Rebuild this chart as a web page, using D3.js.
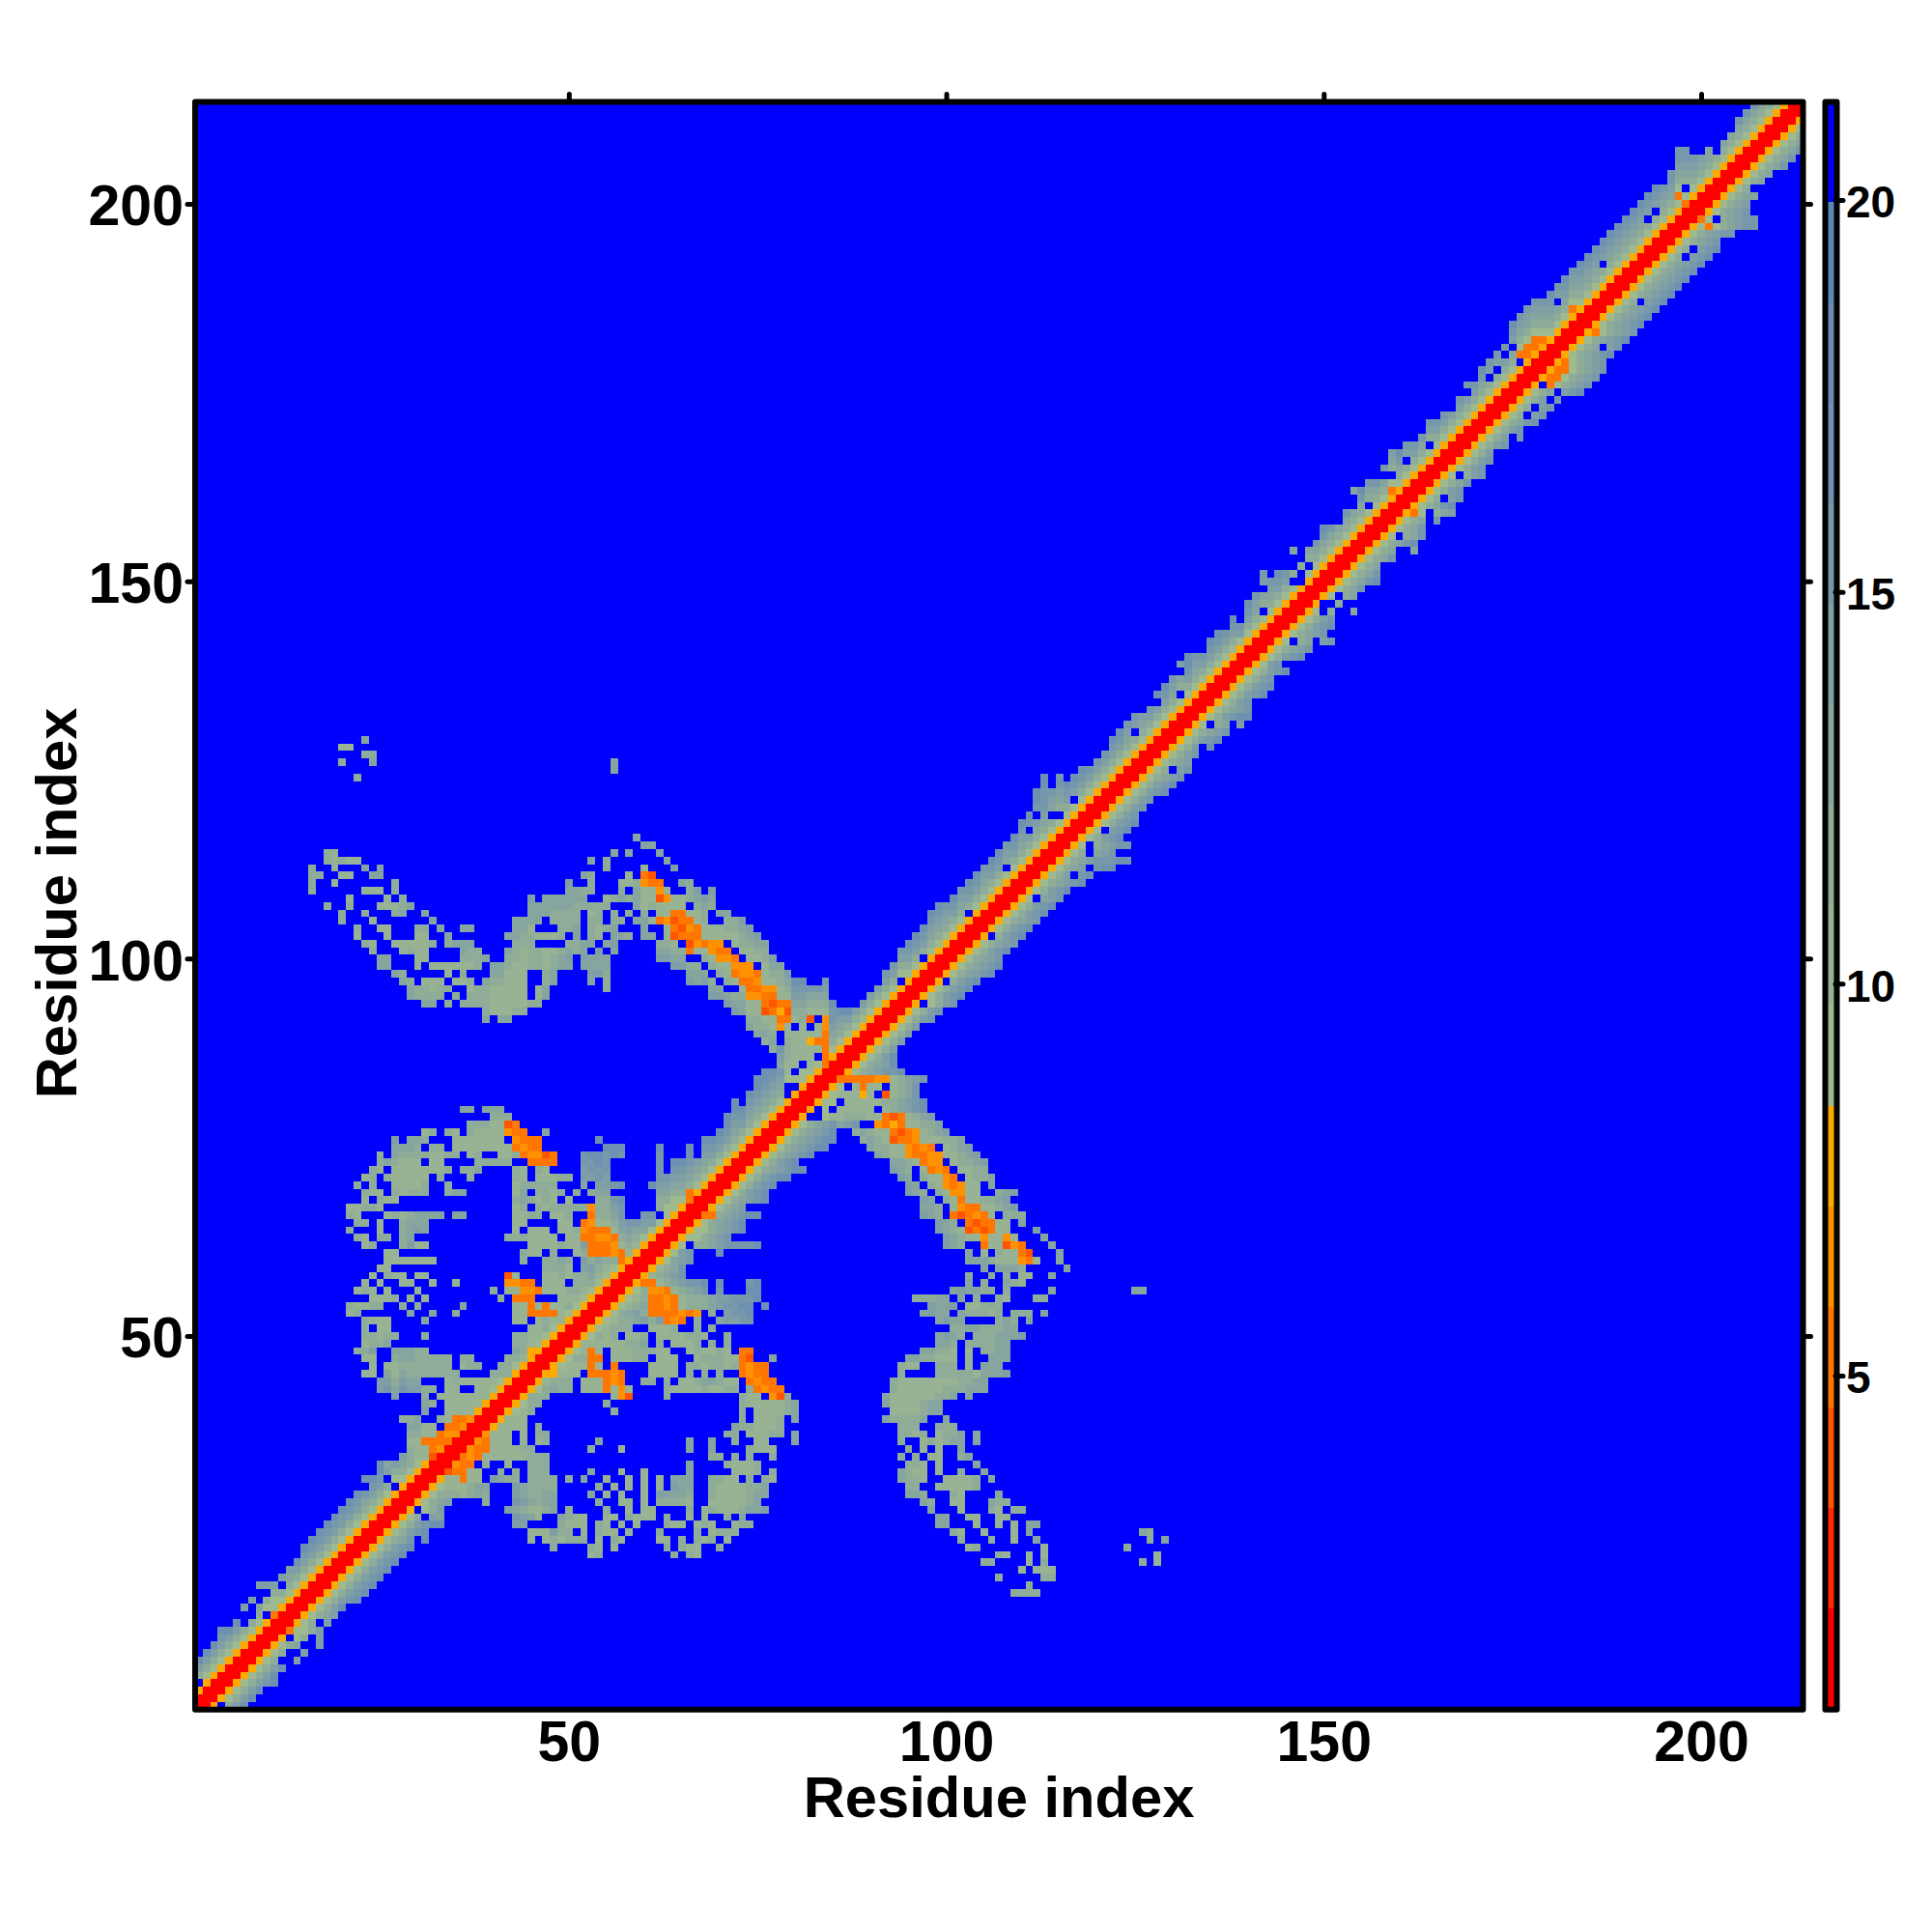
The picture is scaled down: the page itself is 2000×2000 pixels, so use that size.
<!DOCTYPE html>
<html><head><meta charset="utf-8">
<script src="https://cdn.jsdelivr.net/npm/d3@7"></script>
<style>html,body{margin:0;background:#fff}svg{display:block}text{font-family:"Liberation Sans",Arial,sans-serif;font-weight:bold;fill:#000}</style>
</head><body><svg id="c" width="2000" height="2000"></svg>
<script>
// Level code per cell: 0-5 warm, 6-e green to steel, '.' = beyond cut-off (blue)
const levelColors = ["#ff0000","#ff2a00","#ff5500","#ff7700","#ff9000","#ffaa00","#9fba8e","#97b393","#8fac99","#87a59f","#7f9ea5","#7798ab","#6f91b1","#678bb3","#5f85b4","#0000ff"];
const levelLow = [0.75,2.03,3.31,4.59,5.88,7.16,8.44,9.72,11,12.28,13.56,14.84,16.13,17.41,18.69,19.97];
const residueTicks = [50,100,150,200];
const distanceTicks = [5,10,15,20];
const axisTitle = "Residue index";

// Index 0 = residue 1. Each string starts on the diagonal and runs to higher residues.
const bandRows = [
"005.8ac","00568ac","00568ac","00568abc","00568ac","00568ac","00568..a","00568..a","005689..a","005.68.a",
"003668a","00568.a","005689a","00568ac","00568abc","00568abc","00568abc","00568abc","00568abc","00568abc",
"00568abc","00568abc","005689b.c","00568abc","00568abcc","00568.ab","005.689","005689","00568","00568",
"00568","00568","00568","00568","00568","00568","005689","005689","0056","0056",
"0056","0056","0056","0056","0056","0056","0056","0056","0056","0056",
"0056","0056","0056","0056","0056","0056","0056","0056","0056","0056",
"0056","0056","0056","0056","0056","0056","0056","0056","0056","00568abc",
"00568abcc","005689abcc","00568abc","005689abc","005689abcc","005689abcc","005689abc","005689ab","005..677888773237 89a","005.6.77777.789abc",
"00566.77777889abc","005677757.2789b","0056.7377.789b","003333344789ab","005689abbc","005689ac","00568ac","00568a","00568a","00568a",
"00568a","00568ab","00568ab","005.68ab","00568abc","00568abc","005.8abc","005689abc","005689abc","005689ab",
"00568abc","005689ab","005.8abc","00568abc","005689ab","00568abc","00568abc","0056.9ab","00568abc","005689abc",
"00568a.bc","005689a.bcc","005689abbbcc","00568.9ab","0056.89abb","00568abc","0056.abc","00568abc","00568ab","00568ab",
"00568ab","00568abc","00568abc","005689ab","00568.ab","005689a","00568ab","00568a.c","00568abc","005689ab",
"0056.89.a","00568abcc","005689ab","00568ab","00568abc","00568abc","00568ab","00568abc","0056ab","00568abc",
"005689ab","0056.89.ab","005689ab","00568abc","00568ab","0056.8..9","005..8","0056.89","005689b","005689bc",
"005689b","005689","005689b","005689..9","005689bc","0056.89b","005689b","005689.b","00536.89a","005689bc",
"00568.ab","00568ab","005689b","0056.8ab","00568ab","00568ab","00568a","00568ab","00568a.b","00568ab",
"005689bc","00568.ab","00568.ab","00568a.b","005689.abc","005.3689ab","00533689ab","00533689ab","00536 89ab","005689abc",
"005689.ab","005689abc","00536 89ab","005689abc","005689abc","005689abc","00568.abc","005689abc","005689abc","005689abc",
"005689abc","005689abc","00568.abc","00568.abc","005689ab","005689abb","00563689abb","0036.89abb","005689ab","005689a",
"0056899","00568","005689","005689","005689b","005689b","005689b","005689","00568","0056",
"005","00","0"
].map(s=>s.replace(/ /g,""));
// [residue row, first residue column, levels]
const farRuns = [
[16,109,"8888"],[17,111,"8"],[18,107,"8"],[18,113,"88"],[19,110,"7"],[19,112,"777"],
[20,105,"88"],[20,111,"7"],[20,113,"8"],[20,126,"8"],[20,128,"7"],
[21,53,"78"],[21,64,"8"],[21,66,"87"],[21,107,"87"],[21,111,"7"],[21,113,"7"],[21,128,"7"],
[22,48,"8"],[22,53,"87"],[22,56,"7"],[22,63,"8"],[22,65,"877"],[22,70,"8"],[22,103,"78"],[22,113,"7"],[22,124,"8"],
[23,45,"7"],[23,47,"787888"],[23,54,"7"],[23,56,"87"],[23,62,"77"],[23,65,"8"],[23,67,"878"],[23,71,"7"],[23,102,"8"],[23,106,"8"],[23,109,"7"],[23,112,"9"],[23,127,"8"],[23,129,"9"],
[24,45,"777a88"],[24,52,"7"],[24,54,"877"],[24,58,"7"],[24,62,"8"],[24,67,"8"],[24,69,"7888"],[24,101,"87"],[24,105,"7"],[24,109,"7"],[24,111,"9"],[24,126,"98"],
[25,43,"aa"],[25,49,"8777"],[25,54,"87"],[25,57,"7"],[25,59,"7"],[25,63,"877"],[25,67,"787"],[25,72,"788"],[25,99,"99"],[25,104,"7"],[25,107,"7"],[25,109,"7"],[25,111,"99"],
[26,33,"9"],[26,43,"ba97"],[26,49,"9877"],[26,55,"77"],[26,58,"8777"],[26,63,"8"],[26,66,"7"],[26,68,"7"],[26,71,"8"],[26,73,"9"],[26,99,"99"],[26,103,"77"],[26,107,"77"],
[27,33,"a"],[27,42,"a987789"],[27,50,"8"],[27,55,"8"],[27,58,"7"],[27,60,"77"],[27,66,"8"],[27,68,"7"],[27,69,"8777899a"],[27,98,"9"],[27,102,"7"],[27,106,"87"],[27,109,"88"],
[28,34,"a"],[28,39,"8"],[28,43,"ba9899"],[28,54,"8"],[28,57,"77"],[28,60,"7"],[28,62,"88887"],[28,69,"7777789"],[28,97,"98"],[28,101,"77"],[28,106,"9"],[28,107,"88"],
[29,34,"887898"],[29,43,"a98899"],[29,53,"9"],[29,55,"7"],[29,57,"7"],[29,60,"7"],[29,62,"a9998"],[29,69,"87777899"],[29,95,"998"],[29,101,"87"],[29,107,"9"],
[30,34,"777899"],[30,43,"a98888"],[30,54,"8"],[30,56,"7"],[30,58,"7"],[30,60,"7"],[30,62,"7"],[30,64,"a99"],[30,69,"87777889"],[30,95,"88"],[30,99,"777778"],
[31,34,"77"],[31,36,"3"],[31,37,"77"],[31,40,"a988"],[31,45,"8888"],[31,50,"8"],[31,52,"9"],[31,55,"7"],[31,58,"7"],[31,60,"7"],[31,62,"7"],[31,64,"999"],[31,69,"8877"],[31,74,"8"],[31,76,"87"],[31,94,"9887"],[31,100,"77778"],[31,106,"9"],
[32,34,"233"],[32,37,"77"],[32,41,"8"],[32,43,"8"],[32,45,"888"],[32,53,"9"],[32,57,"7"],[32,60,"7"],[32,66,"9"],[32,72,"7778"],[32,77,"8"],[32,94,"9877"],[32,99,"7"],[32,102,"8"],[32,105,"9"],
[33,35,"433"],[33,39,"8"],[33,42,"7"],[33,45,"888"],[33,66,"9"],[33,71,"87778"],[33,95,"887"],[33,99,"7"],[33,104,"9"],
[34,36,"343"],[34,39,"7777"],[34,43,"77888"],[34,69,"88"],[34,72,"8"],[34,74,"8"],[34,77,"8"],[34,94,"8"],[34,96,"8"],[34,98,"77"],[34,102,"89"],
[35,37,"433"],[35,40,"777788"],[35,53,"8"],[35,57,"7"],[35,66,"9"],[35,69,"9"],[35,74,"8777"],[35,95,"8"],[35,97,"7"],[35,99,"7"],[35,102,"9"],
[36,38,"43"],[36,40,"777"],[36,44,"7"],[36,46,"78"],[36,54,"9"],[36,66,"9"],[36,69,"9"],[36,72,"8"],[36,75,"77"],[36,80,"9"],[36,94,"8"],[36,97,"787899"],[36,104,"9"],
[37,39,"4"],[37,40,"777"],[37,44,"7"],[37,46,"88"],[37,71,"88"],[37,74,"77788"],[37,80,"9"],[37,94,"8878"],[37,99,"7889"],[37,104,"9"],
[38,41,"7777"],[38,46,"8"],[38,72,"9887778"],[38,94,"888"],[38,99,"888"],
[39,42,"777"],[39,73,"8"],[39,75,"7778"],[39,80,"9"],[39,92,"988889"],[39,100,"9"],
[40,44,"78"],[40,56,"8"],[40,73,"8"],[40,75,"777789"],[40,93,"7777899"],
[41,45,"88"],[41,55,"8"],[41,73,"87777789"],[41,92,"97777899"],
[42,45,"888"],[42,56,"7"],[42,57,"42"],[42,63,"8"],[42,73,"877"],[42,77,"42"],[42,79,"8"],[42,92,"9777777889"],[42,103,"9"],
[43,47,"89"],[43,49,"88"],[43,52,"7"],[43,53,"77"],[43,55,"3"],[43,56,"7"],[43,57,"4"],[43,58,"7"],[43,63,"8"],[43,64,"777"],[43,67,"787788"],[43,74,"8"],[43,75,"3433"],[43,93,"8777777888999"],
[44,47,"7888"],[44,52,"7"],[44,53,"77"],[44,55,"343"],[44,60,"88"],[44,63,"8"],[44,65,"77899877"],[44,74,"3433"],[44,93,"87777"],[44,98,"77778899"],
[45,47,"55"],[45,49,"777"],[45,53,"33"],[45,55,"343"],[45,61,"7777"],[45,66,"8"],[45,68,"8"],[45,70,"8"],[45,73,"3433"],[45,94,"8"],[45,99,"888887999a"],
[46,50,"777"],[46,53,"3"],[46,54,"7"],[46,56,"3"],[46,61,"7777"],[46,66,"8878878"],[46,73,"3433"],[46,94,"877"],[46,99,"888"],[46,103,"7"],[46,105,"999"],
[47,51,"88"],[47,53,"33"],[47,56,"77788"],[47,62,"777"],[47,67,"788877"],[47,73,"32"],[47,77,"9"],[47,95,"9988"],[47,99,"777"],[47,103,"7"],[47,106,"999"],
[48,52,"7"],[48,53,"3"],[48,54,"7"],[48,56,"77788877"],[48,66,"787787"],[48,73,"33"],[48,97,"99887"],[48,103,"7"],[48,105,"8899"],
[49,52,"777777889"],[49,62,"8"],[49,64,"7778"],[49,69,"8"],[49,71,"8"],[49,99,"998"],[49,103,"888899"],
[50,54,"878"],[50,58,"778"],[50,62,"7777887"],[50,71,"8"],[50,99,"9a98"],[50,104,"888999a"],
[51,55,"7888"],[51,61,"7778"],[51,67,"8"],[51,69,"8"],[51,101,"889988899"],
[52,56,"7889a8a"],[52,63,"343"],[52,67,"8"],[52,70,"9aabb"],[52,99,"9a99"],[52,107,"898"],[52,111,"9"],
[53,57,"89a8"],[53,61,"3333434"],[53,69,"8"],[53,71,"abbc"],[53,97,"9a99"],[53,102,"988878"],[53,109,"888"],[53,113,"9"],
[54,58,"789"],[54,61,"3343"],[54,65,"78889abbcc"],[54,76,"c"],[54,98,"a99a"],[54,103,"77888"],
[55,59,"78"],[55,61,"3343"],[55,65,"78889aabbbc"],[55,96,"88899"],[55,102,"9"],[55,104,"8"],[55,107,"87"],[55,112,"88"],
[56,60,"8"],[56,61,"443"],[56,64,"789ab"],[56,70,"b"],[56,74,"cc"],[56,101,"9a9988"],[56,108,"8"],[56,114,"9"],[56,125,"99"],
[57,60,"33"],[57,62,"789abbc"],[57,70,"c"],[57,74,"bc"],[57,103,"9"],[57,105,"8"],[57,108,"987"],
[58,61,"789ab"],[58,103,"8"],[58,106,"8"],[58,108,"8"],[58,110,"77"],[58,114,"9"],
[59,62,"789b"],[59,105,"9"],[59,107,"9998"],[59,116,"9"],
[60,64,"9ab"],[60,103,"999"],[60,106,"8777"],[60,110,"43"],[60,112,"7"],[60,115,"9"],
[61,65,"ab"],[61,70,"c"],[61,103,"9"],[61,105,"7"],[61,107,"877"],[61,110,"32"],[61,115,"9"],
[62,67,"889abbbbc"],[62,100,"a98"],[62,105,"3"],[62,106,"77"],[62,108,"243"],[62,114,"9"],
[63,67,"689ab"],[63,100,"a9877"],[63,105,"4"],[63,106,"77"],[63,108,"4"],[63,109,"7"],[63,113,"9"],
[64,68,"689abc"],[64,99,"a987"],[64,103,"2323"],[64,107,"77"],[64,112,"a"],
[65,69,"89abc"],[65,99,"a98"],[65,103,"3233"],[65,107,"77"],[65,110,"9"],
[66,68,"33"],[66,70,"89abcc"],[66,97,"a98"],[66,101,"32343"],[66,106,"7"],[66,108,"888"],
[67,71,"89a"],[67,97,"998"],[67,101,"7"],[67,102,"433"],[67,105,"7789a"],
[68,72,"89abc"],[68,97,"a9"],[68,100,"8"],[68,101,"7"],[68,102,"3"],[68,103,"77889a"],
[69,73,"8abc"],[69,95,"a98"],[69,99,"87"],[69,101,"44"],[69,103,"77"],[69,107,"89a"],
[70,95,"a9"],[70,98,"87"],[70,100,"434"],[70,103,"77"],[70,106,"9"],
[71,94,"a9"],[71,97,"877"],[71,100,"43"],[71,103,"7889"],
[72,93,"a98"],[72,97,"7"],[72,98,"343"],[72,102,"7788"],
[73,93,"9987"],[73,97,"344"],[73,101,"7889a"],
[74,91,"9877"],[74,95,"43344"],[74,100,"7789a"],
[75,90,"98877"],[75,95,"4343"],[75,100,"789a"],
[76,89,"8987"],[76,93,"2334"],[76,97,"777889"],
[77,88,"89877"],[77,93,"3234"],[77,97,"789a"],
[78,86,"9ab"],[78,91,"4353"],[78,95,"77889"],
];

const x = d3.scaleLinear().domain([0.5,213.5]).range([202,1866.5]);
const y = d3.scaleLinear().domain([0.5,213.5]).range([1769.7,105.5]);
const barY = d3.scaleLinear().domain([5,20]).range([1424,207]);
const color = d3.scaleThreshold().domain(levelLow.slice(1)).range(levelColors);

const cells = new Map();
function put(r,c,ch){
  const k = r+"_"+c;
  if(ch==="."){cells.delete(k);return;}
  cells.set(k,{r,c,d:levelLow[parseInt(ch,16)]+0.6});
}
bandRows.forEach((s,i)=>{const r=i+1;[...s].forEach((ch,o)=>put(r,r+o,ch));});
farRuns.forEach(([r,c,s])=>[...s].forEach((ch,o)=>put(r,c+o,ch)));
const data=[];
cells.forEach(v=>{if(v.c>213)return;data.push(v);if(v.r!==v.c)data.push({r:v.c,c:v.r,d:v.d});});

const svg = d3.select("#c");
svg.append("rect").attr("x",x(0.5)).attr("y",y(213.5)).attr("width",x(213.5)-x(0.5)).attr("height",y(0.5)-y(213.5)).attr("fill",levelColors[15]);
svg.append("g").attr("shape-rendering","crispEdges").selectAll("rect").data(data).join("rect")
  .attr("x",d=>x(d.c-0.5)).attr("y",d=>y(d.r+0.5))
  .attr("width",d=>x(d.c+0.5)-x(d.c-0.5)).attr("height",d=>y(d.r-0.5)-y(d.r+0.5))
  .attr("fill",d=>color(d.d));

// colour bar
const barLevels = levelLow.map((v,i)=>({lo:v,hi:i<15?levelLow[i+1]:21.25}));
svg.append("g").attr("shape-rendering","crispEdges").selectAll("rect").data(barLevels).join("rect")
  .attr("x",1889).attr("width",13).attr("y",d=>barY(d.hi)).attr("height",d=>barY(d.lo)-barY(d.hi)).attr("fill",d=>color(d.lo+0.6));
const frame=(x0,y0,x1,y1)=>svg.append("rect").attr("x",x0).attr("y",y0).attr("width",x1-x0).attr("height",y1-y0)
  .attr("fill","none").attr("stroke","#000").attr("stroke-width",6).attr("stroke-linejoin","round");

function styleAxis(g,fs,dy){
  g.select(".domain").remove();
  g.selectAll("line").attr("stroke","#000").attr("stroke-width",5).attr("stroke-linecap","round");
  g.selectAll("text").attr("font-size",fs).attr("fill","#000").attr("transform",`translate(0,${dy})`);
}
svg.append("g").attr("transform","translate(202,0)").call(d3.axisLeft(y).tickValues(residueTicks).tickSize(8).tickPadding(4)).call(styleAxis,59,3);
svg.append("g").attr("transform","translate(0,1769.7)").call(d3.axisBottom(x).tickValues(residueTicks).tickSize(0).tickPadding(11)).call(styleAxis,59,0);
svg.append("g").attr("transform","translate(0,105.5)").call(d3.axisTop(x).tickValues(residueTicks).tickSize(8).tickFormat("")).call(styleAxis,59,0);
svg.append("g").attr("transform","translate(1866.5,0)").call(d3.axisRight(y).tickValues(residueTicks).tickSize(8).tickFormat("")).call(styleAxis,59,0);
svg.append("g").attr("transform","translate(1900,0)").call(d3.axisRight(barY).tickValues(distanceTicks).tickSize(8).tickPadding(3)).call(styleAxis,46,3);
frame(202,105.5,1866.5,1769.7);
frame(1889.5,105.5,1901.5,1769.7);
svg.append("text").attr("x",1034).attr("y",1881).attr("text-anchor","middle").attr("font-size",59.7).text(axisTitle);
svg.append("text").attr("transform","translate(79,935) rotate(-90)").attr("text-anchor","middle").attr("font-size",59.7).text(axisTitle);
</script></body></html>
